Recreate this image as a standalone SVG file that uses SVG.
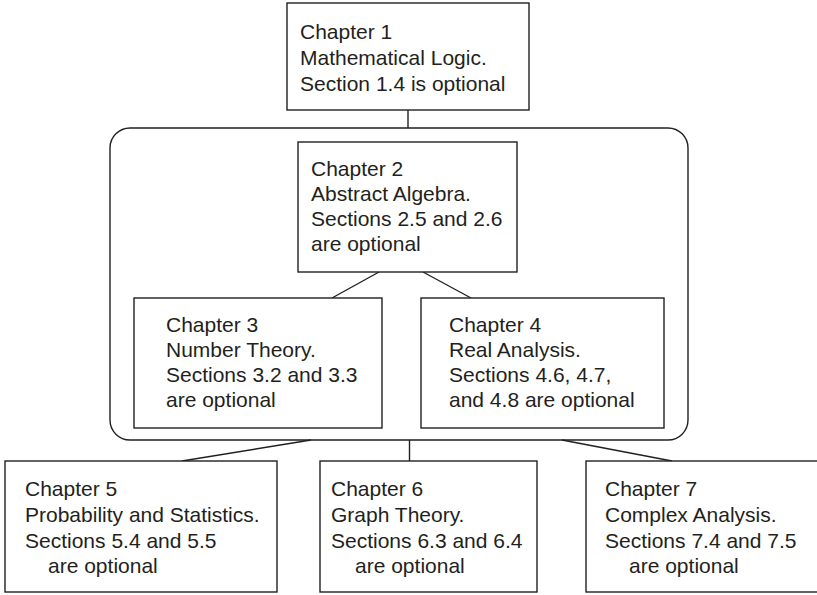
<svg xmlns="http://www.w3.org/2000/svg" width="817" height="595" viewBox="0 0 817 595">
<style>
rect{fill:#fff;stroke:#231f20;stroke-width:1.4}
.c line{stroke:#231f20;stroke-width:1.4}
text{font-family:"Liberation Sans",Arial,sans-serif;font-size:21px;fill:#231f20}
</style>
<rect width="817" height="595" style="stroke:none"/>
<g id="group"><rect x="110" y="128" width="578" height="312" rx="20"/></g>
<g class="c" id="connectors">
<line x1="408" y1="110" x2="408" y2="128"/>
<line x1="379" y1="272" x2="332" y2="298"/>
<line x1="423" y1="272" x2="471" y2="298"/>
<line x1="311" y1="440" x2="182" y2="461"/>
<line x1="409.5" y1="440" x2="409.5" y2="461"/>
<line x1="562" y1="440" x2="672" y2="461"/>
</g>
<g id="ch1"><rect x="287" y="3" width="242" height="107"/>
<text x="300" y="39">Chapter 1</text><text x="300" y="65">Mathematical Logic.</text><text x="300" y="91">Section 1.4 is optional</text></g>
<g id="ch2"><rect x="298" y="142" width="219" height="130"/>
<text x="311" y="176">Chapter 2</text><text x="311" y="201">Abstract Algebra.</text><text x="311" y="226">Sections 2.5 and 2.6</text><text x="311" y="251">are optional</text></g>
<g id="ch3"><rect x="134" y="298" width="248" height="130"/>
<text x="166" y="332">Chapter 3</text><text x="166" y="357">Number Theory.</text><text x="166" y="382">Sections 3.2 and 3.3</text><text x="166" y="407">are optional</text></g>
<g id="ch4"><rect x="421" y="298" width="243" height="130"/>
<text x="449" y="332">Chapter 4</text><text x="449" y="357">Real Analysis.</text><text x="449" y="382">Sections 4.6, 4.7,</text><text x="449" y="407">and 4.8 are optional</text></g>
<g id="ch5"><rect x="5" y="461" width="272" height="131"/>
<text x="25" y="496">Chapter 5</text><text x="25" y="522">Probability and Statistics.</text><text x="25" y="548">Sections 5.4 and 5.5</text><text x="48" y="573">are optional</text></g>
<g id="ch6"><rect x="320" y="461" width="217" height="131"/>
<text x="331" y="496">Chapter 6</text><text x="331" y="522">Graph Theory.</text><text x="331" y="548">Sections 6.3 and 6.4</text><text x="355" y="573">are optional</text></g>
<g id="ch7"><rect x="586" y="461" width="240" height="131"/>
<text x="605" y="496">Chapter 7</text><text x="605" y="522">Complex Analysis.</text><text x="605" y="548">Sections 7.4 and 7.5</text><text x="629" y="573">are optional</text></g>
</svg>
